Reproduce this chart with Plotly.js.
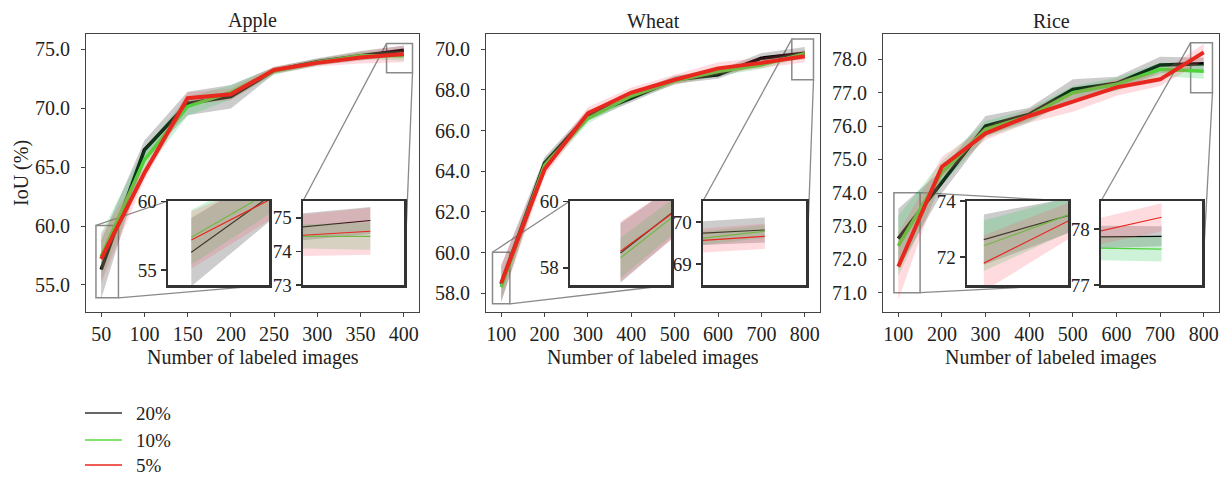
<!DOCTYPE html>
<html><head><meta charset="utf-8">
<script src="https://cdn.plot.ly/plotly-3.0.1.min.js"></script>
<style>html,body{margin:0;padding:0;background:#fff}</style>
</head><body><div id="chart" style="width:1227px;height:478px"></div>
<script>
// ---------------- data ----------------
const seriesNames = ['20%', '10%', '5%'];

const appleX = [50, 100, 150, 200, 250, 300, 350, 400];
const appleMean20 = [56.3, 66.45, 70.4, 70.98, 73.2, 73.95, 74.45, 74.92];
const appleMean10 = [57.4, 65.6, 70.15, 71.35, 73.15, 73.9, 74.45, 74.45];
const appleMean5  = [57.2, 64.5, 70.85, 71.18, 73.25, 73.85, 74.3, 74.6];
const appleStd20 = [2.5, 0.8, 1.0, 1.0, 0.3, 0.3, 0.4, 0.4];
const appleStd10 = [2.0, 1.0, 0.8, 0.6, 0.3, 0.3, 0.3, 0.4];
const appleStd5  = [2.1, 0.6, 0.5, 0.5, 0.3, 0.3, 0.5, 0.7];

const wheatX = [100, 200, 300, 400, 500, 600, 700, 800];
const wheatMean20 = [58.45, 64.4, 66.75, 67.6, 68.5, 68.75, 69.56, 69.81];
const wheatMean10 = [58.3, 64.3, 66.6, 67.7, 68.45, 68.9, 69.23, 69.78];
const wheatMean5  = [58.5, 64.1, 66.85, 67.87, 68.5, 69.06, 69.33, 69.66];
const wheatStd20 = [0.9, 0.3, 0.25, 0.2, 0.2, 0.2, 0.25, 0.3];
const wheatStd10 = [0.6, 0.3, 0.25, 0.2, 0.2, 0.2, 0.2, 0.15];
const wheatStd5  = [0.9, 0.35, 0.3, 0.25, 0.25, 0.3, 0.25, 0.3];

const riceX = [100, 200, 300, 400, 500, 600, 700, 800];
const riceMean20 = [72.62, 74.33, 76.0, 76.35, 77.1, 77.28, 77.83, 77.87];
const riceMean10 = [72.4, 74.6, 75.9, 76.3, 77.0, 77.25, 77.7, 77.64];
const riceMean5  = [71.78, 74.78, 75.78, 76.3, 76.73, 77.16, 77.4, 78.21];
const riceStd20 = [0.9, 0.35, 0.3, 0.2, 0.3, 0.2, 0.25, 0.18];
const riceStd10 = [0.9, 0.35, 0.25, 0.2, 0.2, 0.2, 0.2, 0.22];
const riceStd5  = [1.0, 0.3, 0.2, 0.2, 0.3, 0.25, 0.2, 0.25];

const appleXTicks = [50, 100, 150, 200, 250, 300, 350, 400];
const appleYTicks = [55, 60, 65, 70, 75];
const wheatXTicks = [100, 200, 300, 400, 500, 600, 700, 800];
const wheatYTicks = [58, 60, 62, 64, 66, 68, 70];
const riceXTicks = [100, 200, 300, 400, 500, 600, 700, 800];
const riceYTicks = [71, 72, 73, 74, 75, 76, 77, 78];

const panelTitles = ['Apple', 'Wheat', 'Rice'];
const xTitle = 'Number of labeled images';
const yTitle = 'IoU (%)';

// zoom windows of the insets: x range, y range, y tick values
const appleZoom1 = {xr: [44, 70], yr: [53.9, 60.05], yt: [55, 60]};
const appleZoom2 = {xr: [380, 410], yr: [73, 75.5], yt: [73, 74, 75]};
const wheatZoom1 = {xr: [80, 120], yr: [57.48, 60.02], yt: [58, 60]};
const wheatZoom2 = {xr: [770, 820], yr: [68.5, 70.5], yt: [69, 70]};
const riceZoom1 = {xr: [90, 150], yr: [71, 74], yt: [72, 74]};
const riceZoom2 = {xr: [770, 820], yr: [77, 78.5], yt: [77, 78]};

// ---------------- layout geometry (px) ----------------
const W = 1227, H = 478;
const FONT = 'Liberation Serif, Times New Roman, serif';
const lineColors = ['#000000', '#4fd23a', '#e8281e'];
const legendColors = ['#333333', '#5ad83a', '#e8281e'];
const bandColors = ['rgba(0,0,0,0.2)', 'rgba(60,205,100,0.25)', 'rgba(245,90,110,0.22)'];
const mainWidths = [3.5, 3.5, 4];

const panels = [
  {x: appleX, means: [appleMean20, appleMean10, appleMean5], stds: [appleStd20, appleStd10, appleStd5],
   xr: [32.5, 417.5], yr: [52.7, 76.3], xt: appleXTicks, yt: appleYTicks, px: [86, 419],
   insets: [{z: appleZoom1, px: [168, 269], corners: ['UL', 'LR']}, {z: appleZoom2, px: [303, 404], corners: ['UL', 'LR']}]},
  {x: wheatX, means: [wheatMean20, wheatMean10, wheatMean5], stds: [wheatStd20, wheatStd10, wheatStd5],
   xr: [65, 835], yr: [57.08, 70.75], xt: wheatXTicks, yt: wheatYTicks, px: [486, 820],
   insets: [{z: wheatZoom1, px: [570, 671], corners: ['UL', 'LR']}, {z: wheatZoom2, px: [703, 806], corners: ['UL', 'LR']}]},
  {x: riceX, means: [riceMean20, riceMean10, riceMean5], stds: [riceStd20, riceStd10, riceStd5],
   xr: [65, 835], yr: [70.42, 78.76], xt: riceXTicks, yt: riceYTicks, px: [883, 1219],
   insets: [{z: riceZoom1, px: [967, 1068], corners: ['UR', 'LR']}, {z: riceZoom2, px: [1101, 1202], corners: ['UL', 'LR']}]}
];
const mainTop = 34, mainBottom = 312;
const insetTop = 201, insetBottom = 285;
const legendRows = [413, 440, 465];

const traces = [];
const layout = {
  width: W, height: H,
  margin: {l: 0, r: 0, t: 0, b: 0, autoexpand: false},
  paper_bgcolor: '#ffffff', plot_bgcolor: '#ffffff',
  font: {family: FONT, size: 20, color: '#222'},
  showlegend: false,
  shapes: [], annotations: []
};

function dx(px) { return px / W; }
function dy(px) { return 1 - px / H; }

function addSeries(xs, mean, std, k, xa, ya, width) {
  const up = mean.map((m, i) => m + std[i]);
  const lo = mean.map((m, i) => m - std[i]);
  traces.push({x: xs.concat(xs.slice().reverse()), y: up.concat(lo.slice().reverse()),
    xaxis: xa, yaxis: ya, mode: 'lines', fill: 'toself', fillcolor: bandColors[k],
    line: {width: 0, color: 'rgba(0,0,0,0)'}, hoverinfo: 'skip', showlegend: false});
  traces.push({x: xs, y: mean, xaxis: xa, yaxis: ya, mode: 'lines', name: seriesNames[k],
    line: {color: lineColors[k], width: width}, showlegend: false});
}

let axN = 1;
const mainAxes = [];
panels.forEach((p, pi) => {
  const n = axN++;
  const xa = 'x' + (n === 1 ? '' : n), ya = 'y' + (n === 1 ? '' : n);
  mainAxes.push([xa, ya]);
  for (let k = 0; k < 3; k++) addSeries(p.x, p.means[k], p.stds[k], k, xa, ya, mainWidths[k]);
  layout['xaxis' + (n === 1 ? '' : n)] = {
    domain: [dx(p.px[0]), dx(p.px[1])], range: p.xr, anchor: ya, tickvals: p.xt,
    ticks: 'outside', ticklen: 4, tickcolor: '#444', showline: true, mirror: true,
    linecolor: '#444', linewidth: 1, showgrid: false, zeroline: false,
    tickfont: {family: FONT, size: 20, color: '#222'}};
  layout['yaxis' + (n === 1 ? '' : n)] = {
    domain: [dy(mainBottom), dy(mainTop)], range: p.yr, anchor: xa, tickvals: p.yt, tickformat: '.1f',
    ticks: 'outside', ticklen: 4, tickcolor: '#444', showline: true, mirror: true,
    linecolor: '#444', linewidth: 1, showgrid: false, zeroline: false, ticklabelstandoff: 7,
    tickfont: {family: FONT, size: 20, color: '#222'}};
  const cx = (p.px[0] + p.px[1]) / 2 / W;
  layout.annotations.push({text: panelTitles[pi], x: cx, y: dy(21), xref: 'paper', yref: 'paper',
    xanchor: 'center', yanchor: 'middle', showarrow: false, font: {family: FONT, size: 20, color: '#222'}});
  layout.annotations.push({text: xTitle, x: cx, y: dy(357), xref: 'paper', yref: 'paper',
    xanchor: 'center', yanchor: 'middle', showarrow: false, font: {family: FONT, size: 20, color: '#222'}});
});
layout.annotations.push({text: yTitle, x: dx(22), y: dy(173), xref: 'paper', yref: 'paper', textangle: -90,
  xanchor: 'center', yanchor: 'middle', showarrow: false, font: {family: FONT, size: 20, color: '#222'}});

// insets (drawn after the main panels so they sit on top)
panels.forEach((p, pi) => {
  const [mxa, mya] = mainAxes[pi];
  function pX(v) { return dx(p.px[0] + (v - p.xr[0]) / (p.xr[1] - p.xr[0]) * (p.px[1] - p.px[0])); }
  function pY(v) { return dy(mainBottom - (v - p.yr[0]) / (p.yr[1] - p.yr[0]) * (mainBottom - mainTop)); }
  p.insets.forEach(ins => {
    const n = axN++;
    const xa = 'x' + n, ya = 'y' + n;
    for (let k = 0; k < 3; k++) addSeries(p.x, p.means[k], p.stds[k], k, xa, ya, 1.2);
    layout['xaxis' + n] = {domain: [dx(ins.px[0]), dx(ins.px[1])], range: ins.z.xr, anchor: ya,
      showticklabels: false, ticks: '', showline: true, mirror: true, linecolor: '#333', linewidth: 2.5,
      showgrid: false, zeroline: false};
    layout['yaxis' + n] = {domain: [dy(insetBottom), dy(insetTop)], range: ins.z.yr, anchor: xa,
      tickvals: ins.z.yt, ticks: 'outside', ticklen: 5, tickwidth: 1.5, tickcolor: '#333',
      showline: true, mirror: true, linecolor: '#333', linewidth: 2.5, showgrid: false, zeroline: false,
      tickfont: {family: FONT, size: 19, color: '#222'}};
    // zoom rectangle on the main panel
    layout.shapes.push({type: 'rect', xref: mxa, yref: mya, x0: ins.z.xr[0], x1: ins.z.xr[1],
      y0: ins.z.yr[0], y1: ins.z.yr[1], line: {color: '#8a8a8a', width: 1.5}, layer: 'below'});
    // connectors
    ins.corners.forEach(c => {
      const rx = c[1] === 'L' ? ins.z.xr[0] : ins.z.xr[1];
      const ry = c[0] === 'U' ? ins.z.yr[1] : ins.z.yr[0];
      const ix = c[1] === 'L' ? ins.px[0] : ins.px[1];
      const iy = c[0] === 'U' ? insetTop : insetBottom;
      layout.shapes.push({type: 'line', xref: 'paper', yref: 'paper', x0: pX(rx), y0: pY(ry),
        x1: dx(ix), y1: dy(iy), line: {color: '#8a8a8a', width: 1.3}, layer: 'below'});
    });
  });
});

// legend (drawn by hand so it does not push the plot margins)
seriesNames.forEach((nm, k) => {
  layout.shapes.push({type: 'line', xref: 'paper', yref: 'paper', x0: dx(85), x1: dx(122),
    y0: dy(legendRows[k]), y1: dy(legendRows[k]), line: {color: legendColors[k], width: 1.6}});
  layout.annotations.push({text: nm, x: dx(134), y: dy(legendRows[k]), xref: 'paper', yref: 'paper',
    xanchor: 'left', yanchor: 'middle', showarrow: false, font: {family: FONT, size: 19, color: '#222'}});
});

Plotly.newPlot('chart', traces, layout, {staticPlot: true});
</script>
</body></html>
